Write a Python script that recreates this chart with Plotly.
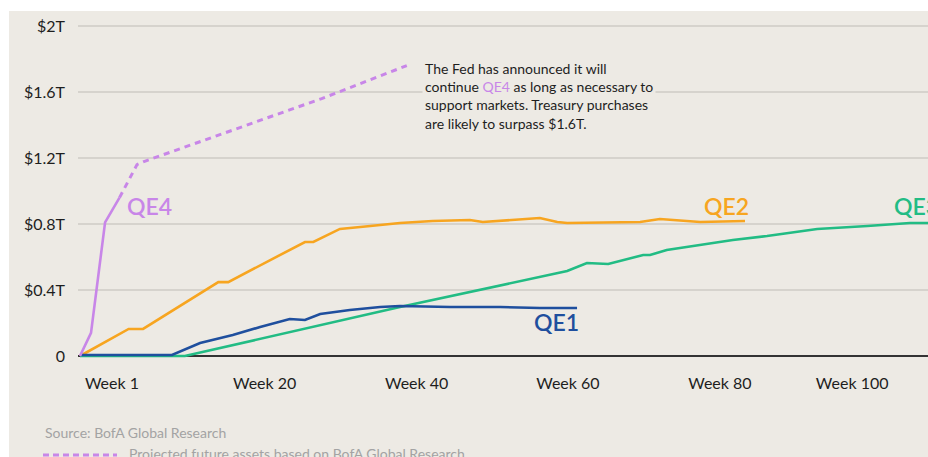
import plotly.graph_objects as go

# ---------------- data (weeks, $ trillions) ----------------
qe1_weeks = [0, 12.1, 15.8, 20.1, 23.7, 27.6, 29.6, 31.6, 35.5, 39.5, 42.1, 48.7, 55.3, 60.5, 65.4]
qe1_vals = [0.006, 0.006, 0.079, 0.127, 0.176, 0.224, 0.218, 0.255, 0.279, 0.297, 0.303, 0.297, 0.297, 0.291, 0.291]

qe2_weeks = [0, 6.4, 8.3, 18.2, 19.5, 29.6, 30.7, 34.2, 38.2, 42.1, 46.4, 51.3, 53.0, 55.3, 60.5, 62.8, 64.1, 73.7, 76.3, 81.6, 87.5]
qe2_vals = [0, 0.164, 0.164, 0.448, 0.448, 0.691, 0.691, 0.770, 0.788, 0.806, 0.818, 0.824, 0.812, 0.818, 0.836, 0.812, 0.806, 0.812, 0.830, 0.812, 0.818]

qe3_weeks = [0, 13.8, 42.1, 52.6, 64.1, 66.7, 69.5, 74.1, 75.0, 77.2, 85.9, 90.4, 97.0, 103.6, 109.2, 111.6]
qe3_vals = [0, 0, 0.297, 0.400, 0.515, 0.564, 0.558, 0.612, 0.612, 0.642, 0.703, 0.727, 0.770, 0.788, 0.806, 0.806]

qe4_weeks = [0, 1.45, 3.3, 5.2]
qe4_vals = [0, 0.14, 0.81, 0.96]

qe4_proj_weeks = [5.2, 7.5, 8.5, 31.8, 43.0]
qe4_proj_vals = [0.96, 1.16, 1.18, 1.56, 1.76]

tick_weeks = [4.2, 24.3, 44.3, 64.2, 84.2, 101.6]
tick_labels = ["Week 1", "Week 20", "Week 40", "Week 60", "Week 80", "Week 100"]

y_ticks = [0, 0.4, 0.8, 1.2, 1.6, 2.0]
y_labels = ["0", "$0.4T", "$0.8T", "$1.2T", "$1.6T", "$2T"]

# ---------------- style ----------------
W, H = 928, 457
L, R, T, B = 78, 0, 18, 93
PW, PH = W - L - R, H - T - B
BG = "#EDEAE4"
PURPLE = "#C886E8"
ORANGE = "#F7A520"
GREEN = "#22BC84"
BLUE = "#1F4F9E"
FONT = "Lato"


def px(x):
    return (x - L) / PW


def py(y):
    return (H - B - y) / PH


fig = go.Figure()
line_w = 2.6
fig.add_trace(go.Scatter(x=qe2_weeks, y=qe2_vals, mode="lines", line=dict(color=ORANGE, width=line_w)))
fig.add_trace(go.Scatter(x=qe3_weeks, y=qe3_vals, mode="lines", line=dict(color=GREEN, width=line_w)))
fig.add_trace(go.Scatter(x=qe1_weeks, y=qe1_vals, mode="lines", line=dict(color=BLUE, width=line_w)))
fig.add_trace(go.Scatter(x=qe4_weeks, y=qe4_vals, mode="lines", line=dict(color=PURPLE, width=line_w)))
fig.add_trace(go.Scatter(x=qe4_proj_weeks, y=qe4_proj_vals, mode="lines",
                         line=dict(color=PURPLE, width=3, dash="6px,5px")))

shapes = [
    dict(type="rect", xref="paper", yref="paper", x0=px(9), x1=px(W + 5), y0=py(H + 5), y1=py(11),
         fillcolor=BG, line=dict(width=0), layer="below"),
    dict(type="line", xref="paper", yref="paper", x0=px(43), x1=px(117), y0=py(455), y1=py(455),
         line=dict(color=PURPLE, width=3, dash="6px,4px")),
]


def label(text, x, y, color, size, xanchor="center", yanchor="middle", weight="normal", **kw):
    return dict(text=text, x=px(x), y=py(y), xref="paper", yref="paper", showarrow=False,
                xanchor=xanchor, yanchor=yanchor,
                font=dict(family=FONT, size=size, color=color, weight=weight), **kw)


annotations = [
    label("QE4", 149, 206, PURPLE, 23, weight=600),
    label("QE2", 726, 206, ORANGE, 23, weight=600),
    label("QE3", 892, 206, GREEN, 23, xanchor="left", weight=600),
    label("QE1", 556, 322, BLUE, 23, weight=600),
    label(("The Fed has announced it will<br>continue <span style='color:%s'>QE4</span> as long as necessary to<br>"
           "support markets. Treasury purchases<br>are likely to surpass $1.6T.") % PURPLE,
          422, 57, "#1E1E1E", 14, xanchor="left", yanchor="top", align="left", bgcolor=BG, borderpad=2),
    label("Source: BofA Global Research", 43, 432, "#A3A3A3", 14, xanchor="left"),
    label("Projected future assets based on BofA Global Research", 127, 453, "#A3A3A3", 14, xanchor="left"),
]

ppw = 7.6  # pixels per week
x0 = -(80 - L) / ppw
ppu = 165.0  # pixels per $1T
y0 = -(H - B - 356) / ppu
y1 = y0 + PH / ppu

fig.update_layout(
    width=W, height=H,
    margin=dict(l=L, r=R, t=T, b=B, pad=0),
    paper_bgcolor="white",
    plot_bgcolor="rgba(0,0,0,0)",
    showlegend=False,
    shapes=shapes,
    annotations=annotations,
    xaxis=dict(range=[x0, x0 + PW / ppw], tickvals=tick_weeks, ticktext=tick_labels,
               showgrid=False, zeroline=False, showline=False, ticks="",
               tickfont=dict(family=FONT, size=16, color="#1E1E1E"), ticklabelstandoff=8),
    yaxis=dict(range=[y0, y1], tickvals=y_ticks, ticktext=y_labels,
               showgrid=True, gridcolor="#D6D3CD", gridwidth=1.5,
               zeroline=True, zerolinecolor="#333333", zerolinewidth=1.5, showline=False, ticks="",
               tickfont=dict(family=FONT, size=16, color="#1E1E1E"), ticklabelstandoff=12),
)

fig.write_html("out.html")
